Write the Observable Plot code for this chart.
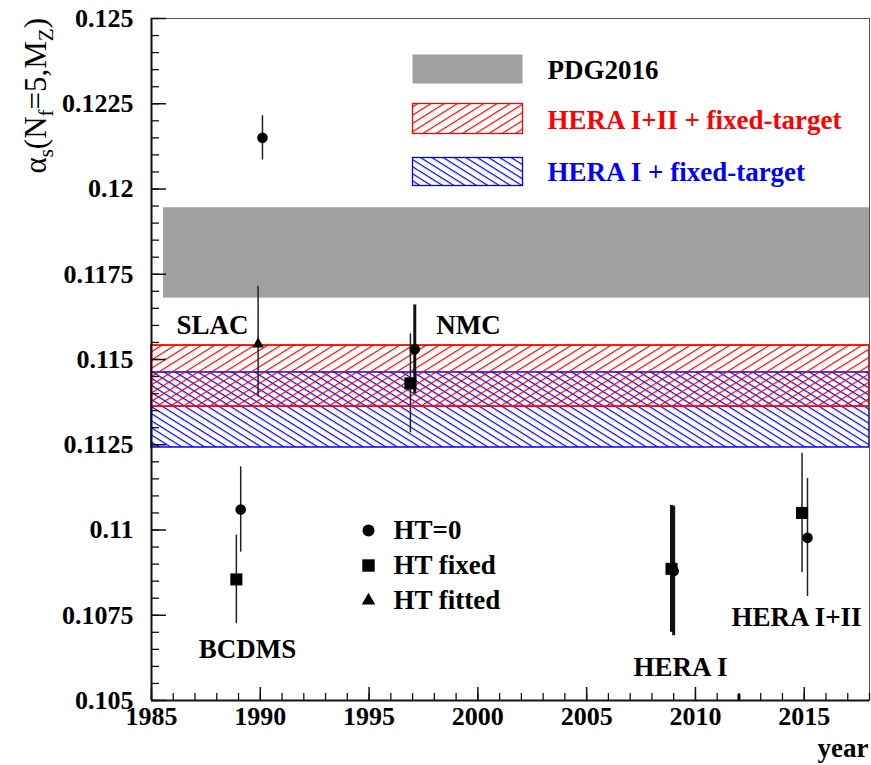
<!DOCTYPE html>
<html><head><meta charset="utf-8">
<script src="https://cdn.jsdelivr.net/npm/d3@7"></script>
<script src="https://cdn.jsdelivr.net/npm/@observablehq/plot@0.6"></script>
<style>body{margin:0;background:#fff}</style>
</head><body><div id="chart"></div>
<script>
// ---- data ----
const experiment = ["SLAC","SLAC","NMC","NMC","BCDMS","BCDMS","HERA I","HERA I","HERA I+II","HERA I+II"];
const htType     = ["HT=0","HT fitted","HT=0","HT fixed","HT=0","HT fixed","HT fixed","HT=0","HT fixed","HT=0"];
const year       = [1990.1, 1989.9, 1997.1, 1996.9, 1989.1, 1988.9, 2008.9, 2009.0, 2014.9, 2015.15];
const alphaS     = [0.1215, 0.11545, 0.1153, 0.1143, 0.1106, 0.10855, 0.10886, 0.1088, 0.1105, 0.10977];
const errUp      = [0.00065, 0.0017, 0.0013, 0.00145, 0.00125, 0.0013, 0.00186, 0.0019, 0.00175, 0.00174];
const errDown    = [0.00065, 0.00155, 0.0013, 0.00145, 0.00125, 0.0013, 0.00186, 0.0019, 0.00175, 0.00172];

const bandName  = ["PDG2016", "HERA I+II + fixed-target", "HERA I + fixed-target"];
const bandLow   = [0.1168, 0.11362, 0.11242];
const bandHigh  = [0.11945, 0.11541, 0.11462];
const bandStart = [1985.55, 1985, 1985];
const bandEnd   = [2018, 2018, 2018];

const xLabels = [1985, 1990, 1995, 2000, 2005, 2010, 2015];
const yLabels = [0.105, 0.1075, 0.11, 0.1125, 0.115, 0.1175, 0.12, 0.1225, 0.125];
const htLegend = ["HT=0", "HT fixed", "HT fitted"];
const expLabels = ["SLAC", "NMC", "BCDMS", "HERA I", "HERA I+II"];

// ---- build ----
const points = year.map((x, i) => ({x, v: alphaS[i], lo: alphaS[i] - errDown[i], hi: alphaS[i] + errUp[i], exp: experiment[i], ht: htType[i]}));
const bands = bandName.map((name, i) => ({name, low: bandLow[i], high: bandHigh[i], start: bandStart[i], end: bandEnd[i]}));

const W = 871, H = 765, mL = 151, mR = 2, mT = 18, mB = 65;
const pw = W - mL - mR, ph = H - mT - mB;

const yMinor = d3.range(0, 41).map(i => +(0.105 + i * 0.0005).toFixed(4));
const xMinor = d3.range(1985, 2019);

const symbolOf = {"HT=0": "circle", "HT fixed": "square", "HT fitted": "triangle"};
const rOf = {"HT=0": 5.3, "HT fixed": 6.8, "HT fitted": 4.3};
const rLeg = {"HT=0": 6, "HT fixed": 7, "HT fitted": 5};
const thick = new Set(["NMC|HT=0", "HERA I|HT fixed", "HERA I|HT=0"]);

const expPos = {"SLAC": [61, 307], "NMC": [317, 307], "BCDMS": [96, 631], "HERA I": [529, 649], "HERA I+II": [645, 599]};
const legBox = [
  {top: 36, bottom: 617, fill: "#a0a0a0", stroke: "none", color: "black"},
  {top: 85, bottom: 567, fill: "url(#hatchRed)", stroke: "red", color: "red"},
  {top: 139, bottom: 515, fill: "url(#hatchBlue)", stroke: "blue", color: "blue"}
];
const legTextDy = [52, 102, 154];
const htLegDy = [512, 547, 582];

const marks = [
  // bands
  Plot.rect(bands.slice(0, 1), {x1: "start", x2: "end", y1: "low", y2: "high", fill: "#a0a0a0"}),
  Plot.rect(bands.slice(2, 3), {x1: "start", x2: "end", y1: "low", y2: "high", fill: "url(#hatchBlue)", stroke: "blue", strokeWidth: 1.5}),
  Plot.rect(bands.slice(1, 2), {x1: "start", x2: "end", y1: "low", y2: "high", fill: "url(#hatchRed)", stroke: "red", strokeWidth: 1.8}),
  // frame and axes
  Plot.frame({stroke: "#555", strokeWidth: 1}),
  Plot.ruleX([1985], {stroke: "#111", strokeWidth: 2}),
  Plot.ruleY([0.105], {stroke: "#111", strokeWidth: 2}),
  Plot.tickY(yMinor, {y: d => d, insetRight: pw - 8, stroke: "#111", strokeWidth: 1.3}),
  Plot.tickY(yLabels, {y: d => d, insetRight: pw - 15, stroke: "#111", strokeWidth: 1.5}),
  Plot.tickX(xMinor, {x: d => d, insetTop: ph - 7, stroke: "#111", strokeWidth: 1.3}),
  Plot.tickX(xLabels, {x: d => d, insetTop: ph - 13, stroke: "#111", strokeWidth: 1.5}),
  Plot.tickX([2012], {x: d => d, insetTop: ph - 6, stroke: "#000", strokeWidth: 3}),
  Plot.axisY({ticks: yLabels, tickSize: 0, tickPadding: 18, tickFormat: d => String(+d.toFixed(4)), label: null, fill: "#000", fontSize: 26}),
  Plot.axisX({ticks: xLabels, tickSize: 0, tickPadding: 6, tickFormat: d => String(d), label: null, fill: "#000", fontSize: 26}),
  // error bars
  Plot.ruleX(points.filter(d => !thick.has(d.exp + "|" + d.ht)), {x: "x", y1: "lo", y2: "hi", stroke: "#222", strokeWidth: 1.5}),
  Plot.ruleX(points.filter(d => thick.has(d.exp + "|" + d.ht)), {x: "x", y1: "lo", y2: "hi", stroke: "#111", strokeWidth: 3}),
  // points
  ...htLegend.map(t => Plot.dot(points.filter(d => d.ht === t), {x: "x", y: "v", symbol: symbolOf[t], r: rOf[t], fill: "#000", stroke: "none"})),
  // experiment labels
  ...expLabels.map(n => Plot.text([n], {text: d => d, frameAnchor: "top-left", lineAnchor: "middle", dx: expPos[n][0], dy: expPos[n][1], textAnchor: "middle", fill: "#000"})),
  // top-right legend
  ...legBox.map((b, i) => Plot.frame({insetLeft: 261, insetRight: pw - 371, insetTop: b.top, insetBottom: b.bottom, fill: b.fill, stroke: b.stroke, strokeWidth: 1.3})),
  ...bandName.map((n, i) => Plot.text([n], {text: d => d, frameAnchor: "top-left", lineAnchor: "middle", dx: 396, dy: legTextDy[i], textAnchor: "start", fill: legBox[i].color})),
  // marker legend
  ...htLegend.map((t, i) => Plot.dot([t], {frameAnchor: "top-left", dx: 217, dy: htLegDy[i], symbol: symbolOf[t], r: rLeg[t], fill: "#000", stroke: "none"})),
  ...htLegend.map((t, i) => Plot.text([t], {text: d => d, frameAnchor: "top-left", lineAnchor: "middle", dx: 242, dy: htLegDy[i], textAnchor: "start", fill: "#000"})),
  // year label
  Plot.text(["year"], {text: d => d, frameAnchor: "bottom-right", lineAnchor: "middle", dx: -1, dy: 48, textAnchor: "end", fill: "#000"})
];

const chart = Plot.plot({
  width: W, height: H,
  marginLeft: mL, marginRight: mR, marginTop: mT, marginBottom: mB,
  x: {domain: [1985, 2018]},
  y: {domain: [0.105, 0.125]},
  style: {fontFamily: "'Liberation Serif', 'Times New Roman', serif", fontSize: "27px", fontWeight: "bold", background: "#fff", color: "#000", overflow: "visible"},
  marks
});

// patterns
const svg = d3.select(chart);
const defs = svg.insert("defs", ":first-child");
const pr = defs.append("pattern").attr("id", "hatchRed").attr("patternUnits", "userSpaceOnUse")
  .attr("width", 20).attr("height", 7).attr("patternTransform", "rotate(-32)");
pr.append("line").attr("x1", 0).attr("x2", 20).attr("y1", 0.6).attr("y2", 0.6).attr("stroke", "red").attr("stroke-width", 1.2);
const pb = defs.append("pattern").attr("id", "hatchBlue").attr("patternUnits", "userSpaceOnUse")
  .attr("width", 20).attr("height", 6).attr("patternTransform", "rotate(32)");
pb.append("line").attr("x1", 0).attr("x2", 20).attr("y1", 0.6).attr("y2", 0.6).attr("stroke", "blue").attr("stroke-width", 1.2);

// y-axis title with subscripts
const t = svg.append("text")
  .attr("transform", `translate(46,${mT}) rotate(-90)`)
  .attr("text-anchor", "end")
  .style("font-family", "'Liberation Serif', 'Times New Roman', serif")
  .style("font-size", "31px").style("font-weight", "normal").attr("fill", "#000");
t.append("tspan").text("α");
t.append("tspan").attr("dy", 7).style("font-size", "21px").text("s");
t.append("tspan").attr("dy", -7).text("(N");
t.append("tspan").attr("dy", 7).style("font-size", "21px").text("f");
t.append("tspan").attr("dy", -7).text("=5,M");
t.append("tspan").attr("dy", 7).style("font-size", "21px").text("Z");
t.append("tspan").attr("dy", -7).text(")");

document.getElementById("chart").appendChild(chart);
</script>
</body></html>
